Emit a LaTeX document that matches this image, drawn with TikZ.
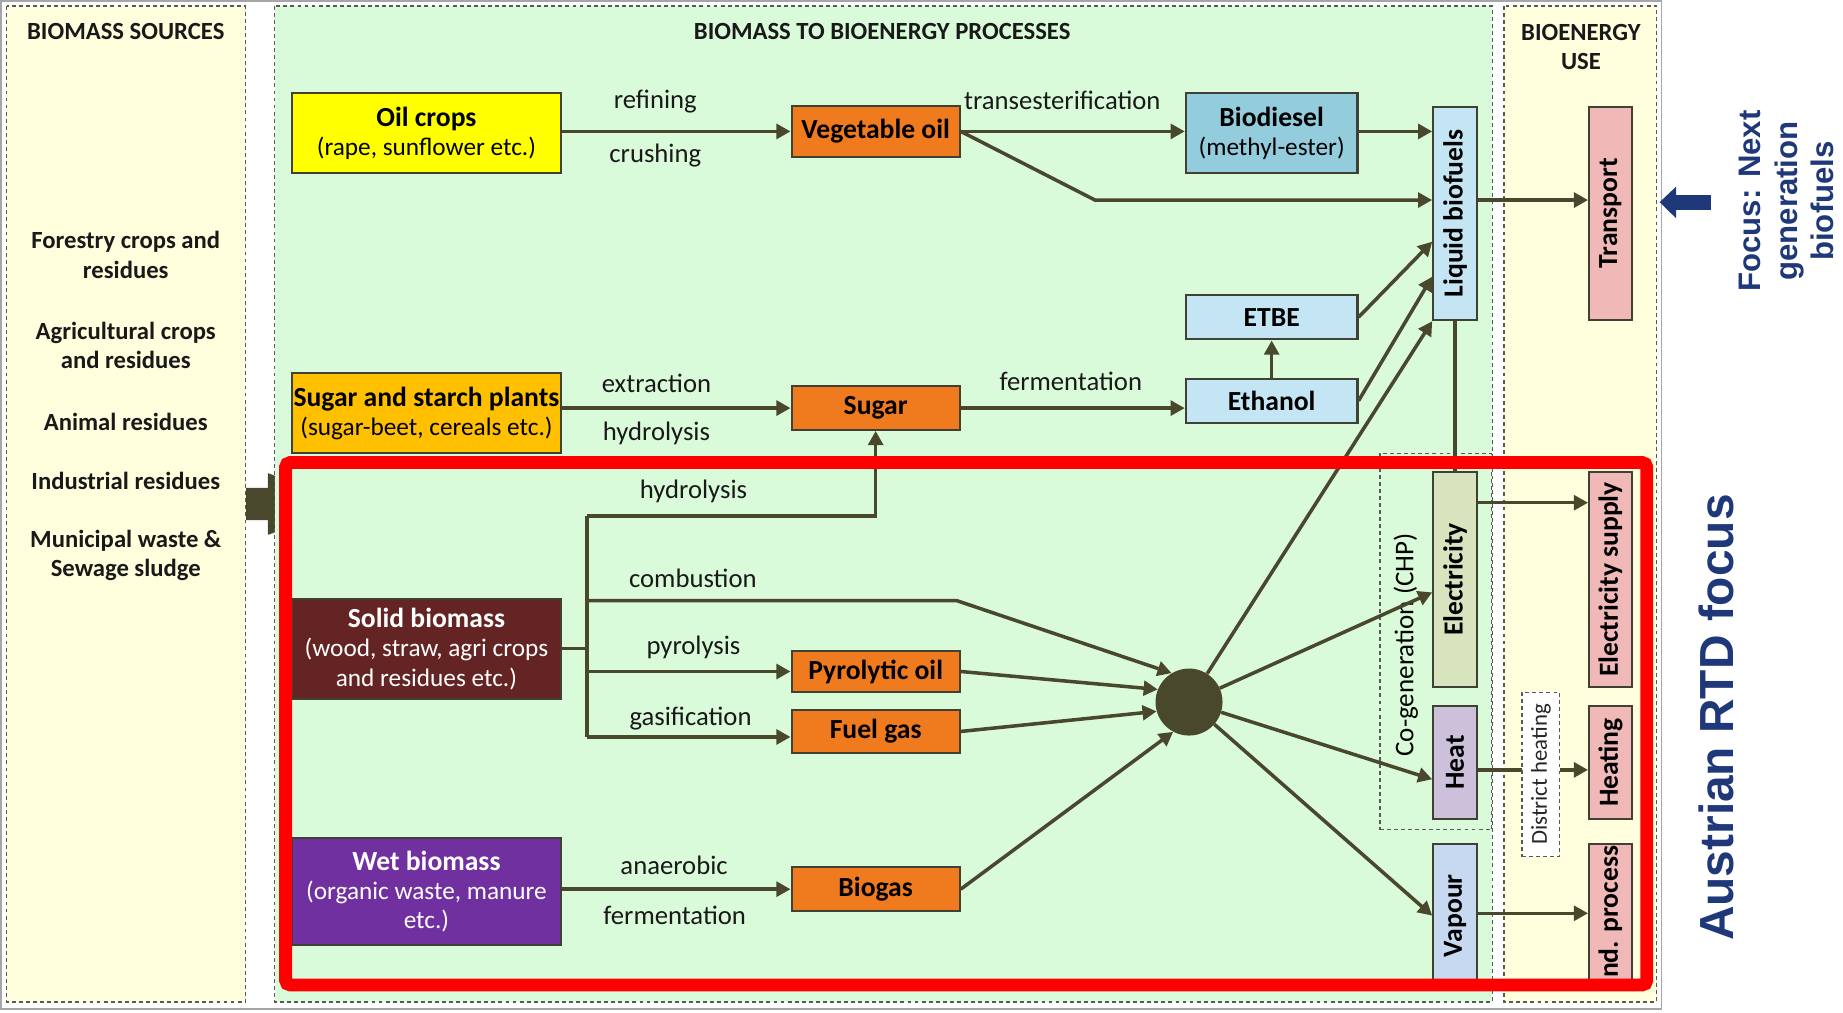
\documentclass[tikz,border=0pt]{standalone}
\usepackage{fontspec}
\setmainfont{Carlito}
\newfontfamily\arialfont{Liberation Sans}
\usetikzlibrary{arrows.meta}

\definecolor{flowcol}{RGB}{74,72,44}
\definecolor{boxline}{RGB}{64,64,52}
\definecolor{creampanel}{RGB}{255,255,222}
\definecolor{greenpanel}{RGB}{218,251,218}
\definecolor{oilyellow}{RGB}{255,255,0}
\definecolor{sugargold}{RGB}{255,192,0}
\definecolor{solidbrown}{RGB}{99,36,35}
\definecolor{wetpurple}{RGB}{112,48,160}
\definecolor{prodorange}{RGB}{240,122,30}
\definecolor{dieselblue}{RGB}{147,205,221}
\definecolor{fuelblue}{RGB}{196,230,244}
\definecolor{elecgreen}{RGB}{215,228,189}
\definecolor{heatlilac}{RGB}{204,192,218}
\definecolor{vapourblue}{RGB}{198,217,241}
\definecolor{usepink}{RGB}{240,185,184}
\definecolor{focusblue}{RGB}{31,56,122}
\definecolor{rtdred}{RGB}{255,0,0}

\newcommand{\hdfont}{\fontsize{21}{25}\selectfont\bfseries}
\newcommand{\boxfont}{\fontsize{21.5}{25}\selectfont}
\newcommand{\titlefont}{\fontsize{23.5}{25}\selectfont\bfseries}
\newcommand{\lblfont}{\fontsize{22.7}{26}\selectfont}
\newcommand{\vtext}[1]{\rotatebox{90}{\titlefont #1}}

\begin{document}
\begin{tikzpicture}[x=1pt, y=-1pt, >={Triangle[length=12pt,width=12.5pt]},
  every node/.style={inner sep=0pt},
  panel/.style={draw=black!65, dash pattern=on 3.3pt off 2.7pt, line width=1.1pt},
  srcbox/.style={draw=boxline, line width=1.8pt, minimum width=229pt, align=center, font=\boxfont},
  prodbox/.style={draw=boxline, line width=1.8pt, fill=prodorange, minimum width=143pt, font=\titlefont},
  fuelbox/.style={draw=boxline, line width=1.8pt, minimum width=146pt, align=center, font=\boxfont},
  vertbox/.style={draw=boxline, line width=1.8pt, minimum width=37pt},
  lbl/.style={font=\lblfont, text=black!90},
  side/.style={font=\hdfont, align=center, text=black!90},
  flow/.style={->, draw=flowcol, line width=3pt},
  link/.style={draw=flowcol, line width=2.8pt}]

  \useasboundingbox (0,0) rectangle (1568,861);

  % Background panels
  \draw[black!35, line width=1.2pt] (1,1) rectangle (1413.5,858.5);
  \path[panel, fill=creampanel] (5.7,5) rectangle (209,852.5);

  % Source arrow, its head is hidden under the process panel
  \fill[flowcol] (209.3,415) -- (228,415) -- (228,402.6) -- (300,429) -- (228,455)
                 -- (228,442.5) -- (209.3,442.5) -- cycle;

  \path[panel, fill=greenpanel] (233.6,5) rectangle (1269.5,852.5);
  \path[panel, fill=creampanel] (1279.6,5) rectangle (1409.4,852.5);

  % Headings and biomass sources
  \node[side] (hsrc)      at (107,27)    {BIOMASS SOURCES};
  \node[side] (hproc)     at (750.5,27)  {BIOMASS TO BIOENERGY PROCESSES};
  \node[side] (huse)      at (1345,40)   {BIOENERGY\\USE};
  \node[side] (forestry)  at (107,217)   {Forestry crops and\\residues};
  \node[side] (agri)      at (107,294)   {Agricultural crops\\and residues};
  \node[side] (animal)    at (107,359)   {Animal residues};
  \node[side] (industry)  at (107,409)   {Industrial residues};
  \node[side] (municipal) at (107,472.5) {Municipal waste \&\\Sewage sludge};

  % Co-generation frame
  \node[draw=black!65, dash pattern=on 3.3pt off 2.7pt, line width=1.1pt,
        minimum width=95pt, minimum height=320pt] (chp) at (1221.5,546) {};
  \node[font=\fontsize{23}{25}\selectfont, text=black] (chplabel) at (1196,548.6)
        {\rotatebox{90}{Co-generation (CHP)}};

  % Feedstocks
  \node[srcbox, fill=oilyellow, minimum height=68.5pt] (oil) at (362.8,113.2)
        {{\titlefont Oil crops}\\(rape, sunflower etc.)};
  \node[srcbox, fill=sugargold, minimum height=68pt] (sugarplant) at (362.8,351.6)
        {{\titlefont Sugar and starch plants}\\(sugar-beet, cereals etc.)};
  \node[srcbox, fill=solidbrown, text=white, minimum height=85pt] (solid) at (362.8,552)
        {{\titlefont Solid biomass}\\(wood, straw, agri crops\\and residues etc.)};
  \node[srcbox, fill=wetpurple, text=white, minimum height=91.5pt] (wet) at (362.8,758.5)
        {{\titlefont Wet biomass}\\(organic waste, manure\\etc.)};

  % Intermediates
  \node[prodbox, minimum height=43pt] (vegoil) at (745,111.8) {Vegetable oil};
  \node[prodbox, minimum height=37pt] (sugar)  at (745,347.2) {Sugar};
  \node[prodbox, minimum height=35.5pt] (pyro) at (745,571.3) {Pyrolytic oil};
  \node[prodbox, minimum height=36.6pt] (fgas) at (745,622.3) {Fuel gas};
  \node[prodbox, minimum height=37pt] (biogas) at (745,756.5) {Biogas};

  \node[fuelbox, fill=dieselblue, minimum height=68.6pt] (biodiesel) at (1081.9,113.2)
        {{\titlefont Biodiesel}\\(methyl-ester)};
  \node[fuelbox, fill=fuelblue, minimum height=37.7pt, font=\titlefont] (etbe) at (1081.9,269.9) {ETBE};
  \node[fuelbox, fill=fuelblue, minimum height=37.2pt, font=\titlefont] (ethanol) at (1081.9,341) {Ethanol};

  \node[circle, fill=flowcol, minimum size=57pt] (hub) at (1011.6,597.3) {};

  % Energy carriers and uses
  \node[vertbox, fill=fuelblue, minimum height=181.5pt]   (liquid)    at (1237.9,181.6) {\vtext{Liquid biofuels}};
  \node[vertbox, fill=elecgreen, minimum height=183pt]    (elec)      at (1237.9,493)   {\vtext{Electricity}};
  \node[vertbox, fill=heatlilac, minimum height=96.7pt]   (heat)      at (1237.9,648.7) {\vtext{Heat}};
  \node[vertbox, fill=vapourblue, minimum height=122pt]   (vapour)    at (1237.9,779)   {\vtext{Vapour}};
  \node[vertbox, fill=usepink, minimum width=36.2pt, minimum height=181.5pt] (transport) at (1370.1,181.6) {\vtext{Transport}};
  \node[vertbox, fill=usepink, minimum width=36.2pt, minimum height=183pt]   (elecsup)   at (1370.1,493)   {\vtext{Electricity supply}};
  \node[vertbox, fill=usepink, minimum width=36.2pt, minimum height=96.7pt]  (heating)   at (1370.1,648.7) {\vtext{Heating}};
  \node[vertbox, fill=usepink, minimum width=36.2pt, minimum height=122pt]   (indproc)   at (1370.1,779)   {\vtext{Ind. process}};

  % Process labels
  \node[lbl] (refining)   at (557.5,86.5)  {refining};
  \node[lbl] (crushing)   at (557.5,132.7) {crushing};
  \node[lbl] (transest)   at (903.8,85)    {transesterification};
  \node[lbl] (extraction) at (558.5,326)   {extraction};
  \node[lbl] (hydrolysisA) at (558.5,368.6) {hydrolysis};
  \node[lbl] (fermentA)   at (911,324.7)   {fermentation};
  \node[lbl] (hydrolysisB) at (590,418)    {hydrolysis};
  \node[lbl] (combustion) at (589.5,492)   {combustion};
  \node[lbl] (pyrolysis)  at (590,551)     {pyrolysis};
  \node[lbl] (gasific)    at (587.5,611.7) {gasification};
  \node[lbl] (anaerobic)  at (573.5,736)   {anaerobic};
  \node[lbl] (fermentB)   at (574,779)     {fermentation};

  \coordinate (vbend)    at (931.6,170.2);
  \coordinate (trunktop) at (499.5,439);
  \coordinate (trunkbot) at (499.5,627);
  \coordinate (combbend) at (814,511);

  % Oil and sugar routes
  \draw[flow] (oil.east |- vegoil) -- (vegoil);
  \draw[flow] (vegoil) -- (biodiesel.west |- vegoil);
  \draw[flow] (vegoil.east) -- (vbend) -- (liquid.west |- vbend);
  \draw[flow] (biodiesel.east |- vegoil) -- (liquid.west |- vegoil);
  \draw[flow] (sugarplant.east |- sugar) -- (sugar);
  \draw[flow] (sugar) -- (ethanol.west |- sugar);
  \draw[flow] (ethanol) -- (etbe);
  \draw[flow] (etbe.east) -- (liquid.west |- 0,205.6);
  \draw[flow] (ethanol.east) -- (liquid.west |- 0,235.4);

  % Solid and wet biomass routes
  \draw[link] (solid.east) -- (solid.east -| trunktop);
  \draw[link] (trunktop) -- (trunkbot);
  \draw[flow] (trunktop) -| (sugar.south);
  \draw[flow] (trunktop |- combbend) -- (combbend) -- (hub.121);
  \draw[flow] (trunktop |- pyro) -- (pyro);
  \draw[flow] (trunkbot) -- (fgas.west |- trunkbot);
  \draw[flow] (wet.east |- biogas) -- (biogas);
  \draw[flow] (pyro.east) -- (hub.158);
  \draw[flow] (fgas.east) -- (hub.196);
  \draw[flow] (biogas.east) -- (hub.242);

  % Conversion outputs
  \draw[flow] (hub) -- (liquid.south west);
  \draw[flow] (hub) -- (elec.west |- 0,504);
  \draw[flow] (hub) -- (heat.west |- 0,663);
  \draw[flow] (hub) -- (vapour.west |- 0,779);
  \draw[link] (liquid) -- (elec);

  % To final use
  \draw[flow] (liquid.east |- vbend) -- (transport.west |- vbend);
  \draw[flow] (elec.east |- 0,427.7) -- (elecsup.west |- 0,427.7);
  \draw[flow] (heat.east |- 0,655) -- (heating.west |- 0,655);
  \draw[flow] (vapour.east |- 0,777) -- (indproc.west |- 0,777);

  \node[draw=black!65, dash pattern=on 3.3pt off 2.7pt, line width=1.1pt, fill=white,
        minimum width=32pt, minimum height=140pt, font=\fontsize{19.4}{22}\selectfont,
        text=black!85] (district) at (1311,658.9) {\rotatebox{90}{District heating}};

  % Focus frame
  \draw[rtdred, line width=11pt, rounded corners=4pt] (243,393.5) rectangle (1401,838);

  % Annotations
  \fill[focusblue] (1412,172) -- (1426,158.8) -- (1426,166) -- (1455.6,166)
                   -- (1455.6,178.6) -- (1426,178.6) -- (1426,185.7) -- cycle;
  \node[rotate=90, align=center, text=focusblue,
        font={\arialfont\bfseries\fontsize{26.5}{31}\selectfont}] (focus) at (1520,171)
        {Focus: Next\\generation\\biofuels};
  \node[rotate=90, text=focusblue,
        font={\arialfont\bfseries\fontsize{40.7}{44}\selectfont}] (rtd) at (1460,610.5)
        {Austrian RTD focus};

\end{tikzpicture}
\end{document}
